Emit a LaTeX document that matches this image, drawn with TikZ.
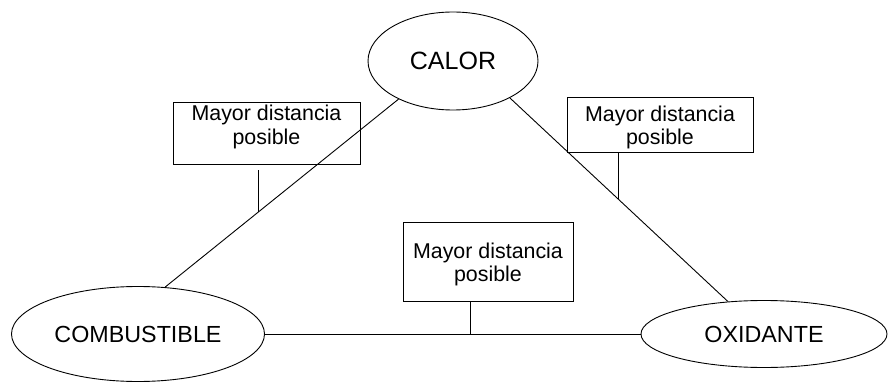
\documentclass[tikz,border=0pt]{standalone}
\usepackage{fontspec}
\setmainfont{Liberation Sans}
\usetikzlibrary{shapes.geometric}
\newcommand\mdtext[1]{\raisebox{#1}[0pt][0pt]{\begin{tabular}{@{}c@{}}Mayor distancia\\posible\end{tabular}}}
\begin{document}
\begin{tikzpicture}[x=1pt,y=1pt,
  conn/.style={line width=0.9pt},
  oval/.style={ellipse,draw,line width=0.9pt,inner sep=0pt,font=\fontsize{23.3}{28}\selectfont},
  notebox/.style={rectangle,draw,line width=0.9pt,inner sep=0pt,font=\fontsize{21.4}{23.5}\selectfont}]
\useasboundingbox (0,0) rectangle (888,383);
\node[oval,minimum width=170,minimum height=98,font=\fontsize{25}{30}\selectfont] (calor) at (453,322) {CALOR};
\node[oval,minimum width=253,minimum height=95] (comb) at (138,49) {COMBUSTIBLE};
\node[oval,minimum width=246,minimum height=67] (oxi) at (764,49) {OXIDANTE};
\node[notebox,minimum width=187,minimum height=62] (lbox) at (266.5,250) {\mdtext{0pt}};
\node[notebox,minimum width=186,minimum height=55] (rbox) at (660,258.5) {\mdtext{-9pt}};
\node[notebox,minimum width=170,minimum height=79] (bbox) at (488,121.5) {\mdtext{-9pt}};
\draw[conn] (calor.215) -- (comb.60) coordinate[pos=0.598] (lfoot);
\draw[conn] (calor.327) -- (oxi.138) coordinate[pos=0.496] (rfoot);
\draw[conn] (comb.east) -- (oxi.west) coordinate[pos=0.548] (bfoot);
\coordinate (ltop) at (259,213);
\draw[conn] (lfoot) -- (lfoot |- ltop);
\draw[conn] (rfoot) -- (rfoot |- rbox.south);
\draw[conn] (bfoot) -- (bfoot |- bbox.south);
\end{tikzpicture}
\end{document}
